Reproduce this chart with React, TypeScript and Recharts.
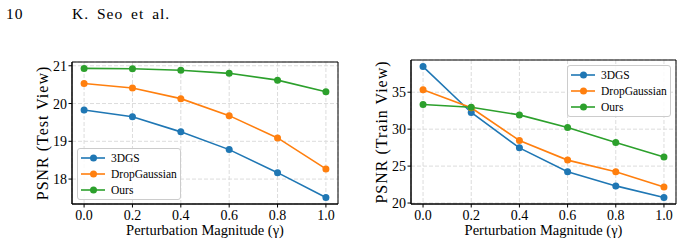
import {
  LineChart,
  Line,
  XAxis,
  YAxis,
  CartesianGrid,
  Legend,
  ReferenceArea,
} from "recharts";

const SERIF = "'Liberation Serif', 'DejaVu Serif', serif";

const gammas = [0.0, 0.2, 0.4, 0.6, 0.8, 1.0];
const seriesNames = ["3DGS", "DropGaussian", "Ours"];
const COLORS = ["#1f77b4", "#ff7f0e", "#2ca02c"];

// PSNR on test views
const test3dgs = [19.83, 19.65, 19.25, 18.78, 18.17, 17.51];
const testDrop = [20.53, 20.41, 20.13, 19.68, 19.09, 18.27];
const testOurs = [20.93, 20.92, 20.88, 20.8, 20.62, 20.31];

// PSNR on train views
const train3dgs = [38.47, 32.26, 27.47, 24.23, 22.32, 20.76];
const trainDrop = [35.32, 32.9, 28.46, 25.81, 24.23, 22.16];
const trainOurs = [33.34, 32.97, 31.93, 30.22, 28.19, 26.22];

const xTicks = [0, 0.2, 0.4, 0.6, 0.8, 1.0];
const testTicks = [18, 19, 20, 21];
const trainTicks = [20, 25, 30, 35];

const buildRows = (a: number[], b: number[], c: number[]) =>
  gammas.map((g, i) => ({ g, [seriesNames[0]]: a[i], [seriesNames[1]]: b[i], [seriesNames[2]]: c[i] }));

const testData = buildRows(test3dgs, testDrop, testOurs);
const trainData = buildRows(train3dgs, trainDrop, trainOurs);

const tickStyle = { fill: "#000", fontSize: 14, fontFamily: SERIF };

const headerStyle = {
  position: "absolute" as const,
  top: 6,
  fontFamily: SERIF,
  fontSize: 15.5,
  lineHeight: "15px",
  letterSpacing: 1,
  wordSpacing: 3,
};

const LegendBox = () => (
  <div
    style={{
      border: "1px solid #cccccc",
      borderRadius: 3,
      background: "rgba(255,255,255,0.85)",
      width: 104,
      height: 52,
      boxSizing: "border-box",
      paddingTop: 1,
      fontFamily: SERIF,
      fontSize: 11.5,
      color: "#000",
    }}
  >
    {seriesNames.map((name, i) => (
      <div key={name} style={{ display: "flex", alignItems: "center", height: 16 }}>
        <svg width={33} height={10} style={{ flex: "none" }}>
          <line x1={3} x2={27} y1={5} y2={5} stroke={COLORS[i]} strokeWidth={1.6} />
          <circle cx={15.5} cy={5} r={3.5} fill={COLORS[i]} />
        </svg>
        <span>{name}</span>
      </div>
    ))}
  </div>
);

interface PanelProps {
  data: Record<string, number>[];
  left: number;
  width: number;
  top: number;
  yAxisWidth: number;
  domain: [number, number];
  yTicks: number[];
  yLabel: string;
  labelX: number;
  legendPos: { left: number; top: number };
}

function Panel({ data, left, width, top, yAxisWidth, domain, yTicks, yLabel, labelX, legendPos }: PanelProps) {
  return (
    <div style={{ position: "absolute", left, top: 0 }}>
      <LineChart width={width} height={246} data={data} margin={{ top, right: 7, bottom: 0, left: 0 }}>
        <CartesianGrid stroke="#dcdcdc" strokeDasharray="4 2" />
        <XAxis
          dataKey="g"
          type="number"
          domain={[-0.05, 1.05]}
          ticks={xTicks}
          allowDataOverflow
          height={42}
          tickSize={3.5}
          tickMargin={2.5}
          tick={tickStyle}
          axisLine={{ stroke: "#000" }}
          tickLine={{ stroke: "#000" }}
          tickFormatter={(v: number) => v.toFixed(1)}
          label={{
            value: "Perturbation Magnitude (γ)",
            position: "insideBottom",
            offset: 11,
            style: { fill: "#000", fontSize: 14.5, fontFamily: SERIF },
          }}
        />
        <YAxis
          type="number"
          domain={domain}
          ticks={yTicks}
          allowDataOverflow
          width={yAxisWidth}
          tickSize={3.5}
          tickMargin={1.5}
          tick={tickStyle}
          axisLine={{ stroke: "#000" }}
          tickLine={{ stroke: "#000" }}
          label={{
            value: yLabel,
            angle: -90,
            position: "insideLeft",
            offset: labelX,
            style: {
              fill: "#000",
              fontSize: 16,
              letterSpacing: 1,
              fontFamily: SERIF,
              textAnchor: "middle",
            },
          }}
        />
        <ReferenceArea
          x1={-0.05}
          x2={1.05}
          y1={domain[0]}
          y2={domain[1]}
          fill="none"
          fillOpacity={0}
          stroke="#000"
          strokeWidth={1}
          ifOverflow="visible"
        />
        {seriesNames.map((name, i) => (
          <Line
            key={name}
            dataKey={name}
            stroke={COLORS[i]}
            strokeWidth={1.6}
            dot={{ r: 3.5, fill: COLORS[i], stroke: COLORS[i], strokeWidth: 0 }}
            isAnimationActive={false}
          />
        ))}
        <Legend
          layout="vertical"
          align="center"
          verticalAlign="middle"
          content={<LegendBox />}
          wrapperStyle={{ left: legendPos.left, top: legendPos.top, right: "auto", bottom: "auto", width: 104 }}
        />
      </LineChart>
    </div>
  );
}

export default function App() {
  return (
    <div
      style={{
        position: "absolute",
        left: 0,
        top: 0,
        width: 683,
        height: 246,
        background: "#fff",
      }}
    >
      <div style={{ ...headerStyle, left: 6 }}>10</div>
      <div style={{ ...headerStyle, left: 72 }}>K. Seo et al.</div>
      <Panel
        data={testData}
        left={0}
        width={345}
        top={62}
        yAxisWidth={72}
        domain={[17.34, 21.1]}
        yTicks={testTicks}
        yLabel="PSNR (Test View)"
        labelX={42}
        legendPos={{ left: 77, top: 148 }}
      />
      <Panel
        data={trainData}
        left={345}
        width={338}
        top={60}
        yAxisWidth={66}
        domain={[19.87, 39.36]}
        yTicks={trainTicks}
        yLabel="PSNR (Train View)"
        labelX={36}
        legendPos={{ left: 222, top: 65 }}
      />
    </div>
  );
}
